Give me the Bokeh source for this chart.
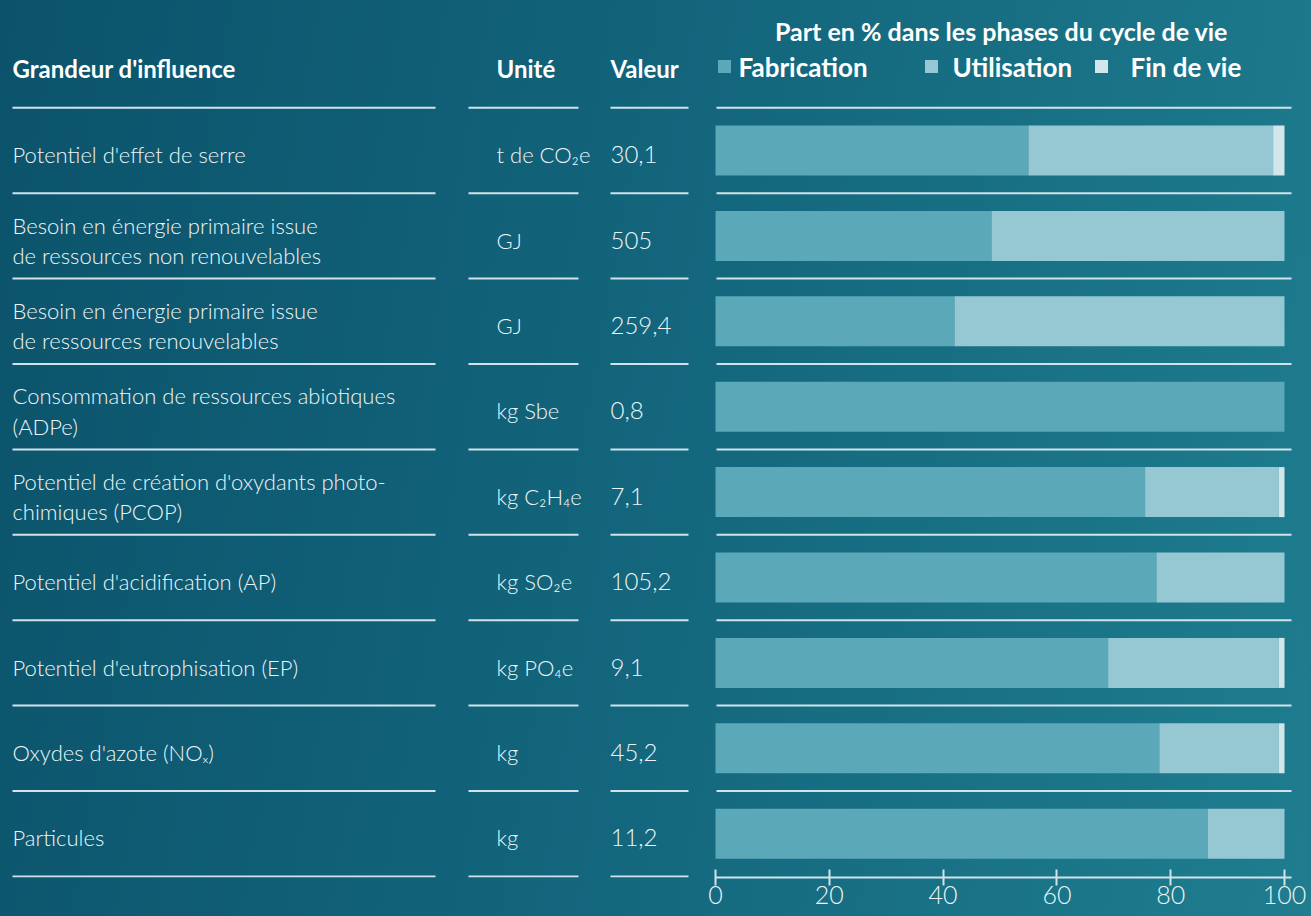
from bokeh.plotting import figure
from bokeh.models import ColumnDataSource, Range1d, LinearAxis, FixedTicker
from bokeh.core.properties import value
from bokeh.embed import file_html
from bokeh.resources import INLINE

# ---------------- data ----------------
grandeurs = [
    "Potentiel d'effet de serre",
    "Besoin en énergie primaire issue\nde ressources non renouvelables",
    "Besoin en énergie primaire issue\nde ressources renouvelables",
    "Consommation de ressources abiotiques\n(ADPe)",
    "Potentiel de création d'oxydants photo-\nchimiques (PCOP)",
    "Potentiel d'acidification (AP)",
    "Potentiel d'eutrophisation (EP)",
    "Oxydes d'azote (NOₓ)",
    "Particules",
]
unites = ["t de CO₂e", "GJ", "GJ", "kg Sbe", "kg C₂H₄e", "kg SO₂e", "kg PO₄e", "kg", "kg"]
valeurs = ["30,1", "505", "259,4", "0,8", "7,1", "105,2", "9,1", "45,2", "11,2"]
fabrication = [55, 48.5, 42, 100, 75.5, 77.5, 69, 78, 86.5]
utilisation = [43, 51.5, 58, 0, 23.5, 22.5, 30, 21, 13.5]
fin_de_vie = [2, 0, 0, 0, 1, 0, 1, 1, 0]
phases = ["Fabrication", "Utilisation", "Fin de vie"]
col_headers = ["Grandeur d'influence", "Unité", "Valeur"]
title_text = "Part en % dans les phases du cycle de vie"
ticks = [0, 20, 40, 60, 80, 100]

colors = ["#5aa8b8", "#96c8d4", "#d3e6eb"]
LINE = "#cfe3e9"
TXT = "#eef5f7"
FONT = "Lato"
LIGHT = "Lato Light"

# ---------------- geometry helpers (pixel -> data) ----------------
W, H, FRAME_H = 1311, 916, 877
X0PX, PXPCT = 715.0, 5.69          # pixel of 0 %, pixels per percent
Y0PX, ROWPX = 150.0, 85.4          # pixel of first row centre, row pitch


def px(xp):
    return (xp - X0PX) / PXPCT


def py(yp):
    return (yp - Y0PX) / ROWPX


n = len(grandeurs)
rows = list(range(n))

p = figure(width=W, height=H,
           x_range=Range1d(px(0), px(W)),
           y_range=Range1d(py(FRAME_H), py(0)),
           x_axis_type=None, y_axis_type=None,
           output_backend="svg", toolbar_location=None,
           min_border=0, min_border_bottom=H - FRAME_H)
p.grid.visible = False
p.outline_line_color = None
p.background_fill_alpha = 0
p.border_fill_alpha = 0
p.styles = {"background": "linear-gradient(100deg, #0b536b 0%, #12647b 45%, #1f7d8f 100%)"}

# ---------------- bars ----------------
src = ColumnDataSource(dict(y=rows, fab=fabrication, util=utilisation, fin=fin_de_vie))
p.hbar_stack(["fab", "util", "fin"], y="y", height=50 / ROWPX, color=colors,
             line_color=None, source=src)

# ---------------- separator lines ----------------
cols_px = [(12, 435), (468, 578), (610, 688)]
x0s, x1s, ys = [], [], []
for (a, b) in cols_px:
    for i in range(n + 1):
        x0s.append(px(a)); x1s.append(px(b)); ys.append(i - 0.5)
for i in range(n):
    x0s.append(px(716)); x1s.append(px(1291)); ys.append(i - 0.5)
p.segment(x0=x0s, y0=ys, x1=x1s, y1=ys, line_color=LINE, line_width=2)

# ---------------- table text ----------------
p.text(x=[px(12)] * n, y=[r + 0.05 for r in rows], text=grandeurs,
       text_font=value(LIGHT), text_font_size="22px", text_color=TXT,
       text_baseline="middle", text_align="left", text_line_height=1.12)
p.text(x=[px(496)] * n, y=[r + 0.05 for r in rows], text=unites,
       text_font=value(LIGHT), text_font_size="22px", text_color=TXT,
       text_baseline="middle", text_align="left")
p.text(x=[px(610)] * n, y=[r + 0.05 for r in rows], text=valeurs,
       text_font=value(LIGHT), text_font_size="24px", text_color=TXT,
       text_baseline="middle", text_align="left")

# headers
p.text(x=[px(12), px(496), px(610)], y=[py(68)] * 3, text=col_headers,
       text_font=value(FONT), text_font_size="24px", text_font_style="bold",
       text_color="white", text_baseline="middle", text_align="left")
p.text(x=[px(1001)], y=[py(30)], text=[title_text],
       text_font=value(FONT), text_font_size="25px", text_font_style="bold",
       text_color="white", text_baseline="middle", text_align="center")

# legend
p.scatter(x=[px(724), px(931), px(1101)], y=[py(66)] * 3, marker="square",
          size=13, color=colors, line_color=None)
p.text(x=[px(738), px(952), px(1130)], y=[py(66)] * 3, text=phases,
       text_font=value(FONT), text_font_size="26px", text_font_style="bold",
       text_color="white", text_baseline="middle", text_align="left")

# ---------------- axis ----------------
ax = LinearAxis(ticker=FixedTicker(ticks=ticks), bounds=(0, 101.2),
                axis_line_color=LINE, axis_line_width=2,
                major_tick_line_color=LINE, major_tick_line_width=2,
                major_tick_in=8, major_tick_out=8,
                minor_tick_line_color=None,
                major_label_text_font=LIGHT, major_label_text_font_size="25px",
                major_label_text_color=TXT, major_label_standoff=0)
p.add_layout(ax, "below")

open("out.html", "w").write(file_html(p, INLINE))
